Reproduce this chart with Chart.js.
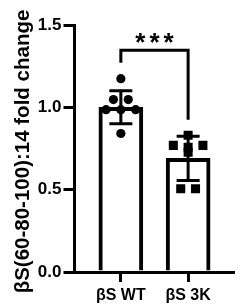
<!DOCTYPE html>
<html><head><meta charset="utf-8">
<script src="https://cdn.jsdelivr.net/npm/chart.js@4"></script>
<style>html,body{margin:0;padding:0;background:#fff;overflow:hidden}canvas{display:block}</style>
</head><body>
<canvas id="c" width="240" height="307" style="width:240px;height:307px"></canvas>
<script>
// ---- data ----
const categories = ['βS WT', 'βS 3K'];
const barMeans = [1.00, 0.69];
const barSD = [0.10, 0.134];
const wtValues = [1.174, 1.047, 1.047, 0.986, 0.986, 0.986, 0.841];
const wtJitter = [0, -0.11, 0.11, -0.22, 0, 0.22, 0];
const k3Values = [0.830, 0.769, 0.769, 0.757, 0.727, 0.505, 0.505];
const k3Jitter = [0, -0.22, 0.22, 0, 0, -0.11, 0.11];
const yTicks = [0, 0.5, 1.0, 1.5];
const yTitle = 'βS(60-80-100):14 fold change';
const sigLabel = '***';
const bracketLevel = 1.347;
const bracketLeftEnd = 1.27;
const bracketRightEnd = 0.925;
const sigLevel = 1.436;

const FONT = "'Liberation Sans', Arial, sans-serif";

const annot = {
  id: 'annot',
  afterDatasetsDraw(chart) {
    const {ctx, scales: {x, y}} = chart;
    ctx.save();
    ctx.strokeStyle = '#000';
    ctx.lineWidth = 3;
    ctx.lineCap = 'butt';
    barMeans.forEach((m, i) => {
      const px = x.getPixelForValue(i);
      const top = y.getPixelForValue(m + barSD[i]);
      const bot = y.getPixelForValue(m - barSD[i]);
      ctx.beginPath();
      ctx.moveTo(px, top); ctx.lineTo(px, bot);
      ctx.moveTo(px - 11.5, top); ctx.lineTo(px + 11.5, top);
      ctx.moveTo(px - 11.5, bot); ctx.lineTo(px + 11.5, bot);
      ctx.stroke();
    });
    // significance bracket
    const x0 = x.getPixelForValue(0), x1 = x.getPixelForValue(1);
    const bY = y.getPixelForValue(bracketLevel);
    ctx.lineJoin = 'miter';
    ctx.beginPath();
    ctx.moveTo(x0, y.getPixelForValue(bracketLeftEnd));
    ctx.lineTo(x0, bY);
    ctx.lineTo(x1, bY);
    ctx.lineTo(x1, y.getPixelForValue(bracketRightEnd));
    ctx.stroke();
    // asterisks
    ctx.fillStyle = '#000';
    ctx.font = 'bold 26px ' + FONT;
    ctx.letterSpacing = '4px';
    ctx.textAlign = 'center';
    ctx.textBaseline = 'alphabetic';
    ctx.fillText(sigLabel, (x0 + x1) / 2 + 2, y.getPixelForValue(sigLevel) + 15);
    ctx.restore();
  },
  afterDraw(chart) {
    const {ctx, scales: {y}} = chart;
    ctx.save();
    ctx.fillStyle = '#000';
    ctx.font = 'bold 20.5px ' + FONT;
    ctx.textAlign = 'center';
    ctx.textBaseline = 'alphabetic';
    ctx.translate(28.5, (y.top + y.bottom) / 2 + 3);
    ctx.rotate(-Math.PI / 2);
    ctx.fillText(yTitle, 0, 0);
    ctx.restore();
  }
};

new Chart(document.getElementById('c'), {
  type: 'bar',
  data: {
    datasets: [
      {
        type: 'bar',
        data: barMeans.map((v, i) => ({x: i, y: v})),
        backgroundColor: '#fff',
        borderColor: '#000',
        borderWidth: 4,
        barThickness: 44,
        order: 3
      },
      {
        type: 'scatter',
        data: wtValues.map((v, i) => ({x: 0 + wtJitter[i], y: v})),
        pointStyle: 'circle',
        pointRadius: 4.6,
        backgroundColor: '#000',
        borderColor: '#000',
        borderWidth: 0,
        order: 1
      },
      {
        type: 'scatter',
        data: k3Values.map((v, i) => ({x: 1 + k3Jitter[i], y: v})),
        pointStyle: 'rect',
        pointRadius: 6.4,
        backgroundColor: '#000',
        borderColor: '#000',
        borderWidth: 0,
        order: 1
      }
    ]
  },
  options: {
    responsive: false,
    devicePixelRatio: 1,
    animation: false,
    events: [],
    layout: {padding: {top: 25, right: 0, left: 0, bottom: 0}},
    plugins: {legend: {display: false}, tooltip: {enabled: false}, title: {display: false}},
    scales: {
      x: {
        type: 'linear',
        offset: false,
        min: -0.689,
        max: 1.676,
        z: 1,
        afterBuildTicks: s => { s.ticks = categories.map((c, i) => ({value: i})); },
        afterFit: s => { s.height = 35; s.paddingLeft = 0; s.paddingRight = 0; },
        ticks: {
          callback: v => categories[v],
          font: {family: FONT, size: 16, weight: 'bold'},
          color: '#000',
          padding: 4,
          maxRotation: 0,
          autoSkip: false
        },
        grid: {offset: false, drawOnChartArea: false, drawTicks: true, tickLength: 10, tickWidth: 3, tickColor: '#000', color: '#000', lineWidth: 3},
        border: {display: true, width: 3, color: '#000'}
      },
      y: {
        type: 'linear',
        min: 0,
        max: 1.5,
        afterBuildTicks: s => { s.ticks = yTicks.map(v => ({value: v})); },
        afterFit: s => { s.width = 74.5; s.paddingTop = 0; s.paddingBottom = 0; },
        ticks: {
          callback: v => Number(v).toFixed(1),
          font: {family: FONT, size: 17, weight: 'bold'},
          color: '#000',
          padding: 2
        },
        grid: {drawOnChartArea: false, drawTicks: true, tickLength: 11, tickWidth: 3, tickColor: '#000', color: '#000', lineWidth: 3},
        border: {display: true, width: 3, color: '#000'},
        title: {display: false}
      }
    }
  },
  plugins: [annot]
});
</script>
</body></html>
